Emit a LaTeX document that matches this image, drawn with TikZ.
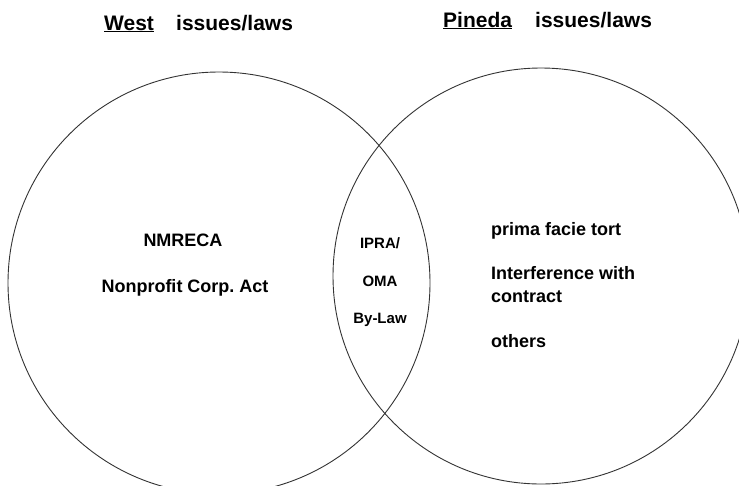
\documentclass[tikz,border=0pt]{standalone}
\usepackage{fontspec}
\setmainfont{Liberation Sans}
\begin{document}
\frenchspacing
\begin{tikzpicture}[x=1pt,y=-1pt,
  ring/.style={draw=black!80,line width=0.9pt},
  headtxt/.style={inner sep=0pt,font=\bfseries\fontsize{21}{25}\selectfont},
  bodytxt/.style={inner sep=0pt,font=\bfseries\fontsize{18}{22}\selectfont},
  lenstxt/.style={inner sep=0pt,font=\bfseries\fontsize{15}{18}\selectfont}]
\useasboundingbox (0,0) rectangle (739,485);
\clip (0,0) rectangle (739,485);

% the two overlapping sets
\draw[ring] (219,283) circle[radius=211];
\draw[ring] (541,276) circle[radius=208];

% headings
\node[headtxt,anchor=base west] (westname) at (104,30) {\underline{West}};
\node[headtxt,anchor=base west] (westtopic) at (176,30) {issues/laws};
\node[headtxt,anchor=base west] (pinedaname) at (443,27) {\underline{Pineda}};
\node[headtxt,anchor=base west] (pinedatopic) at (535,27) {issues/laws};

% West only
\node[bodytxt,anchor=base] (nmreca) at (183,246) {NMRECA};
\node[bodytxt,anchor=base] (npca) at (185,292) {Nonprofit Corp. Act};

% shared
\node[lenstxt,anchor=base] (ipra) at (380,248) {IPRA/};
\node[lenstxt,anchor=base] (oma) at (380,286) {OMA};
\node[lenstxt,anchor=base] (bylaw) at (380,323) {By-Law};

% Pineda only
\node[bodytxt,anchor=base west] (tort) at (491,235) {prima facie tort};
\node[bodytxt,anchor=base west] (interf) at (491,279) {Interference with};
\node[bodytxt,anchor=base west] (contract) at (491,302) {contract};
\node[bodytxt,anchor=base west] (others) at (491,347) {others};
\end{tikzpicture}
\end{document}
